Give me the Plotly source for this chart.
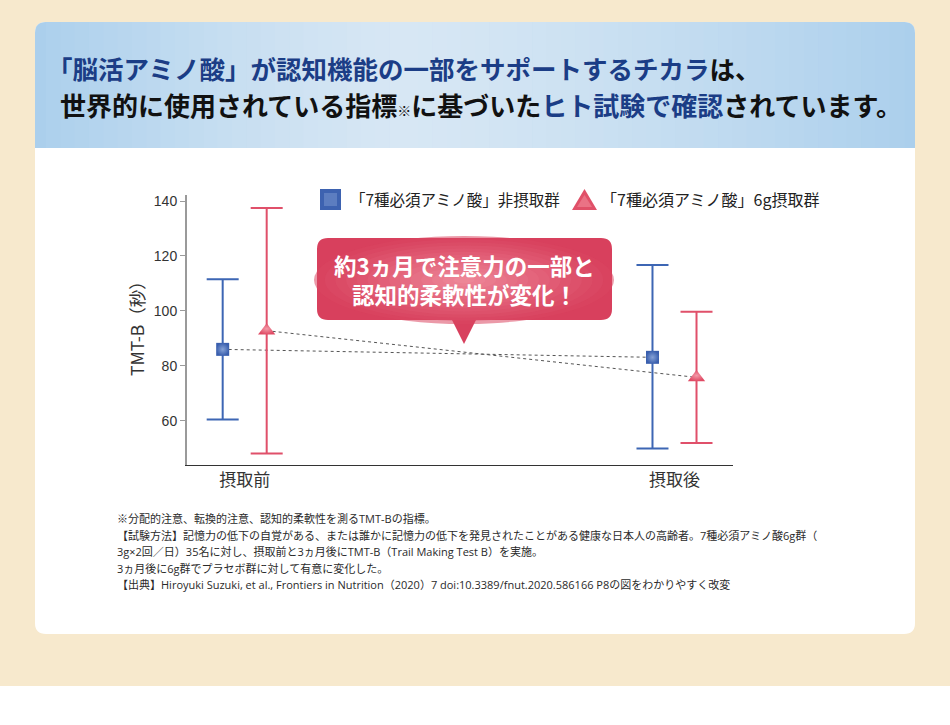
import plotly.graph_objects as go

# ---------------- data ----------------
categories = ["摂取前", "摂取後"]
placebo_mean = [86.0, 83.1]
placebo_upper = [111.5, 116.7]
placebo_lower = [60.5, 49.9]
amino_mean = [92.8, 75.8]
amino_upper = [137.5, 99.7]
amino_lower = [48.1, 51.9]
y_ticks = [60, 80, 100, 120, 140]
legend_labels = ["「7種必須アミノ酸」非摂取群", "「7種必須アミノ酸」6g摂取群"]
y_title = "TMT-B（秒）"
callout_lines = ["約3ヵ月で注意力の一部と", "認知的柔軟性が変化！"]
footnotes = [
    "※分配的注意、転換的注意、認知的柔軟性を測るTMT-Bの指標。",
    "【試験方法】記憶力の低下の自覚がある、または誰かに記憶力の低下を発見されたことがある健康な日本人の高齢者。7種必須アミノ酸6g群（",
    "3g×2回／日）35名に対し、摂取前と3ヵ月後にTMT-B（Trail Making Test B）を実施。",
    "3ヵ月後に6g群でプラセボ群に対して有意に変化した。",
    "【出典】Hiroyuki Suzuki, et al., Frontiers in Nutrition（2020）7 doi:10.3389/fnut.2020.586166 P8の図をわかりやすく改変",
]

# ---------------- layout geometry ----------------
W, H = 950, 725
L, R, T, B = 187, 217, 195, 260
PW, PH = W - L - R, H - T - B

def PX(x):
    return (x - L) / PW

def PY(y):
    return (H - B - y) / PH

FONT = "Noto Sans CJK JP"
BLUE = "#3d66b4"
RED = "#e0506a"
NAVY = "#1b3d86"

off = 0.0512
xs = list(range(len(categories)))
x_pl = [x - off for x in xs]
x_am = [x + off for x in xs]

fig = go.Figure()

# dotted connecting lines
fig.add_trace(go.Scatter(x=x_pl, y=placebo_mean, mode="lines",
                         line=dict(color="#555", width=1, dash="dot"),
                         hoverinfo="skip", showlegend=False))
fig.add_trace(go.Scatter(x=x_am, y=amino_mean, mode="lines",
                         line=dict(color="#555", width=1, dash="dot"),
                         hoverinfo="skip", showlegend=False))

# placebo group
fig.add_trace(go.Scatter(
    x=x_pl, y=placebo_mean, mode="markers", showlegend=False,
    marker=dict(symbol="square", size=13, color="#3a5fae",
                gradient=dict(type="radial", color="#86a2d6"),
                line=dict(width=0)),
    error_y=dict(type="data", symmetric=False,
                 array=[u - m for u, m in zip(placebo_upper, placebo_mean)],
                 arrayminus=[m - l for m, l in zip(placebo_mean, placebo_lower)],
                 color=BLUE, thickness=2, width=16),
))
# amino group
fig.add_trace(go.Scatter(
    x=x_am, y=amino_mean, mode="markers", showlegend=False,
    marker=dict(symbol="triangle-up", size=15, color="#e04a64",
                gradient=dict(type="radial", color="#f39aa8"),
                line=dict(width=0)),
    error_y=dict(type="data", symmetric=False,
                 array=[u - m for u, m in zip(amino_upper, amino_mean)],
                 arrayminus=[m - l for m, l in zip(amino_mean, amino_lower)],
                 color=RED, thickness=2, width=16),
))

shapes = []

# page background (cream) and white card
shapes.append(dict(type="rect", xref="paper", yref="paper", layer="below",
                   x0=PX(0), x1=PX(W), y0=PY(686), y1=PY(0),
                   fillcolor="#f7e9cd", line=dict(width=0)))

def rounded_path(x0, y0, x1, y1, r, top_only=False):
    def p(x, y):
        return f"{PX(x)},{PY(y)}"
    if top_only:
        return (f"M {p(x0, y1)} L {p(x0, y0 + r)} Q {p(x0, y0)} {p(x0 + r, y0)} "
                f"L {p(x1 - r, y0)} Q {p(x1, y0)} {p(x1, y0 + r)} L {p(x1, y1)} Z")
    return (f"M {p(x0 + r, y0)} L {p(x1 - r, y0)} Q {p(x1, y0)} {p(x1, y0 + r)} "
            f"L {p(x1, y1 - r)} Q {p(x1, y1)} {p(x1 - r, y1)} L {p(x0 + r, y1)} "
            f"Q {p(x0, y1)} {p(x0, y1 - r)} L {p(x0, y0 + r)} Q {p(x0, y0)} {p(x0 + r, y0)} Z")

shapes.append(dict(type="path", xref="paper", yref="paper", layer="below",
                   path=rounded_path(35, 22, 915, 634, 11),
                   fillcolor="white", line=dict(width=0)))

# header band with horizontal gradient
def mix(c1, c2, t):
    a = [int(c1[i:i + 2], 16) for i in (1, 3, 5)]
    b = [int(c2[i:i + 2], 16) for i in (1, 3, 5)]
    return "#" + "".join(f"{round(a[i] + (b[i] - a[i]) * t):02x}" for i in range(3))

edge_c, center_c = "#abcfec", "#d7e7f4"
shapes.append(dict(type="path", xref="paper", yref="paper", layer="below",
                   path=rounded_path(35, 22, 915, 148, 11, top_only=True),
                   fillcolor=edge_c, line=dict(width=0)))
n = 60
x_start, x_end = 46, 904
sw = (x_end - x_start) / n
for i in range(n):
    xc = x_start + (i + 0.5) * sw
    t = (xc - 35) / 880
    d = abs(t - 0.42) / (0.58 if t > 0.42 else 0.42)
    col = mix(center_c, edge_c, min(1, d) ** 1.3)
    shapes.append(dict(type="rect", xref="paper", yref="paper", layer="below",
                       x0=PX(x_start + i * sw), x1=PX(x_start + (i + 1) * sw + 0.6),
                       y0=PY(148), y1=PY(22), fillcolor=col, line=dict(width=0)))

# callout bubble
cx0, cy0, cx1, cy1 = 317, 238, 612, 320
def p(x, y):
    return f"{PX(x)},{PY(y)}"
r = 11
bubble = (f"M {p(cx0 + r, cy0)} L {p(cx1 - r, cy0)} Q {p(cx1, cy0)} {p(cx1, cy0 + r)} "
          f"L {p(cx1, cy1 - r)} Q {p(cx1, cy1)} {p(cx1 - r, cy1)} L {p(476, cy1)} "
          f"L {p(464, 344)} L {p(452, cy1)} L {p(cx0 + r, cy1)} "
          f"Q {p(cx0, cy1)} {p(cx0, cy1 - r)} L {p(cx0, cy0 + r)} Q {p(cx0, cy0)} {p(cx0 + r, cy0)} Z")
b_edge, b_center = "#d8405d", "#ee8a9b"
shapes.append(dict(type="path", xref="paper", yref="paper", layer="above",
                   path=bubble, fillcolor=b_edge, line=dict(width=0)))
bcx, bcy = 464, 280
steps = 14
for k in range(steps):
    f = 1 - k / steps
    rx, ry = 150 * f, 44 * f
    col = mix(b_edge, b_center, (k + 1) / steps)
    shapes.append(dict(type="circle", xref="paper", yref="paper", layer="above",
                       x0=PX(bcx - rx), x1=PX(bcx + rx), y0=PY(bcy + ry), y1=PY(bcy - ry),
                       fillcolor=col, line=dict(width=0), opacity=0.55))

# legend symbols
shapes.append(dict(type="rect", xref="paper", yref="paper", layer="above",
                   x0=PX(320), x1=PX(341), y0=PY(210), y1=PY(189),
                   fillcolor="#3d62b0", line=dict(width=0)))
shapes.append(dict(type="rect", xref="paper", yref="paper", layer="above",
                   x0=PX(324), x1=PX(337), y0=PY(206), y1=PY(193),
                   fillcolor="#5c7dc0", line=dict(width=0)))
shapes.append(dict(type="path", xref="paper", yref="paper", layer="above",
                   path=f"M {p(572, 210)} L {p(597, 210)} L {p(584.5, 189)} Z",
                   fillcolor="#e05068", line=dict(width=0)))
shapes.append(dict(type="path", xref="paper", yref="paper", layer="above",
                   path=f"M {p(577, 207)} L {p(592, 207)} L {p(584.5, 195)} Z",
                   fillcolor="#ea7285", line=dict(width=0)))

annotations = []

# header text
line1 = (f"<span style='color:{NAVY}'>「脳活アミノ酸」が認知機能の一部をサポートするチカラ</span>"
         f"<span style='color:#111'>は、</span>")
line2 = (f"<span style='color:#111'>世界的に使用されている指標</span>"
         f"<span style='color:#111;font-size:14px'>※</span>"
         f"<span style='color:#111'>に基づいた</span>"
         f"<span style='color:{NAVY}'>ヒト試験で確認</span>"
         f"<span style='color:#111'>されています。</span>")
annotations.append(dict(text=f"<b>{line1}</b>", xref="paper", yref="paper",
                        x=PX(45), y=PY(67), xanchor="left", yanchor="middle",
                        showarrow=False, font=dict(family=FONT, size=25.5)))
annotations.append(dict(text=f"<b>{line2}</b>", xref="paper", yref="paper",
                        x=PX(58), y=PY(104), xanchor="left", yanchor="middle",
                        showarrow=False, font=dict(family=FONT, size=26)))

# legend texts
annotations.append(dict(text=legend_labels[0], xref="paper", yref="paper",
                        x=PX(348), y=PY(199), xanchor="left", yanchor="middle",
                        showarrow=False, font=dict(family=FONT, size=15.5, color="#222")))
annotations.append(dict(text=legend_labels[1], xref="paper", yref="paper",
                        x=PX(599), y=PY(199), xanchor="left", yanchor="middle",
                        showarrow=False, font=dict(family=FONT, size=16, color="#222")))

# callout text
annotations.append(dict(text="<b>" + "<br>".join(callout_lines) + "</b>",
                        xref="paper", yref="paper", x=PX(464), y=PY(279),
                        xanchor="center", yanchor="middle", align="center",
                        showarrow=False,
                        font=dict(family=FONT, size=22.5, color="white")))

# y axis title
annotations.append(dict(text=y_title, xref="paper", yref="paper",
                        x=PX(136), y=PY(324), xanchor="center", yanchor="middle",
                        textangle=-90, showarrow=False,
                        font=dict(family=FONT, size=17.5, color="#333")))

# footnotes
fy = [518, 535, 551, 568, 584]
for txt, yy in zip(footnotes, fy):
    annotations.append(dict(text=txt, xref="paper", yref="paper",
                            x=PX(115), y=PY(yy), xanchor="left", yanchor="middle",
                            showarrow=False,
                            font=dict(family="Open Sans, Noto Sans CJK JP", size=11,
                                      color="#2a2a2a")))

fig.update_layout(
    width=W, height=H,
    margin=dict(l=L, r=R, t=T, b=B),
    paper_bgcolor="white",
    plot_bgcolor="rgba(0,0,0,0)",
    showlegend=False,
    shapes=shapes,
    annotations=annotations,
    font=dict(family=FONT, color="#333"),
    xaxis=dict(range=[-0.1342, 1.1361], tickvals=xs, ticktext=categories,
               showgrid=False, zeroline=False, showline=True,
               linecolor="#333", linewidth=1, ticks="",
               tickfont=dict(family=FONT, size=17, color="#333"), fixedrange=True),
    yaxis=dict(range=[43.9, 142.2], tickvals=y_ticks, showgrid=False,
               zeroline=False, showline=True, linecolor="#9a9a9a", linewidth=2,
               ticks="outside", ticklen=5, tickwidth=1, tickcolor="#9a9a9a",
               tickfont=dict(family="Liberation Sans", size=14, color="#333"),
               fixedrange=True),
)

fig.write_html("out.html")
